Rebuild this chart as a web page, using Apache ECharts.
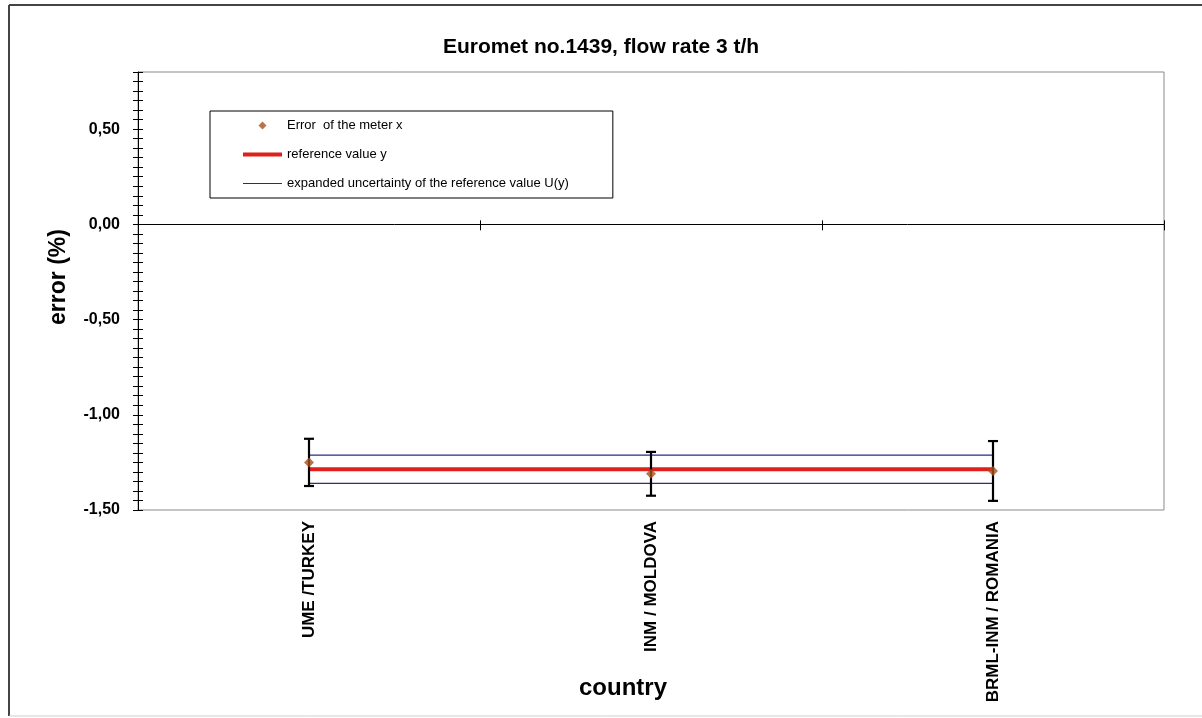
<!DOCTYPE html>
<html>
<head>
<meta charset="utf-8">
<script src="https://cdn.jsdelivr.net/npm/echarts@6/dist/echarts.min.js"></script>
<style>
html,body{margin:0;padding:0;background:#fff;}
#chart{width:1202px;height:718px;}
</style>
</head>
<body>
<div id="chart"></div>
<script>
// ---- data ----
var categories = ['UME /TURKEY', 'INM / MOLDOVA', 'BRML-INM / ROMANIA'];
var meterError = [-1.25, -1.31, -1.295];
var meterUncertainty = [0.124, 0.115, 0.157];
var referenceValue = [-1.286, -1.286, -1.286];
var uncertaintyUpper = [-1.212, -1.212, -1.212];
var uncertaintyLower = [-1.36, -1.36, -1.36];
var yTickValues = [-1.5, -1.0, -0.5, 0.0, 0.5];

var NAME_ERR = 'Error  of the meter x';
var NAME_REF = 'reference value y';
var NAME_UNC = 'expanded uncertainty of the reference value U(y)';
var FONT = 'Liberation Sans, Arial, sans-serif';

var chart = echarts.init(document.getElementById('chart'));

var errData = categories.map(function (c, i) {
  return [i, meterError[i] - meterUncertainty[i], meterError[i] + meterUncertainty[i]];
});

var yCommon = { type: 'value', min: -1.5, max: 0.8, position: 'left' };

var option = {
  backgroundColor: '#fff',
  animation: false,
  title: {
    text: 'Euromet no.1439, flow rate 3 t/h',
    left: 'center',
    top: 32,
    textStyle: { fontFamily: FONT, fontSize: 21, fontWeight: 'bold', color: '#000' }
  },
  legend: {
    orient: 'vertical',
    left: 210,
    top: 111,
    backgroundColor: '#fff',
    borderColor: '#000',
    borderWidth: 1,
    padding: [8, 44, 8, 33],
    itemWidth: 39,
    itemHeight: 8,
    itemGap: 16,
    symbolKeepAspect: true,
    textStyle: { fontFamily: FONT, fontSize: 13, color: '#000' },
    data: [
      { name: NAME_ERR, icon: 'path://M4,0 L8,4 L4,8 L0,4 Z' },
      { name: NAME_REF, icon: 'path://M0,0 L39,0 L39,4 L0,4 Z' },
      { name: NAME_UNC, icon: 'path://M0,0 L39,0 L39,1 L0,1 Z' }
    ]
  },
  grid: {
    left: 138, top: 72, right: 38, bottom: 208,
    show: true, borderColor: '#8a8a8a', borderWidth: 1, backgroundColor: '#fff'
  },
  xAxis: [
    {
      type: 'category', data: categories, position: 'bottom',
      axisLine: { show: false, onZero: false },
      axisTick: { show: false },
      splitLine: { show: false },
      axisLabel: { rotate: 90, margin: 11, fontFamily: FONT, fontSize: 17, fontWeight: 'bold', color: '#000' }
    },
    {
      type: 'category', data: categories, position: 'bottom',
      axisLine: { show: true, onZero: true, lineStyle: { color: '#000', width: 1 } },
      axisTick: { show: true, length: 6, lineStyle: { color: '#000' } },
      axisLabel: { show: false }, splitLine: { show: false }
    },
    {
      type: 'category', data: categories, position: 'bottom',
      axisLine: { show: false, onZero: true },
      axisTick: { show: true, inside: true, length: 4, lineStyle: { color: '#000' } },
      axisLabel: { show: false }, splitLine: { show: false }
    }
  ],
  yAxis: [
    Object.assign({}, yCommon, {
      interval: 0.5,
      axisLine: { show: true, lineStyle: { color: '#000', width: 1 } },
      axisTick: { show: false },
      splitLine: { show: false },
      axisLabel: {
        margin: 18, fontFamily: FONT, fontSize: 16, fontWeight: 'bold', color: '#000',
        formatter: function (v) {
          for (var k = 0; k < yTickValues.length; k++) {
            if (Math.abs(yTickValues[k] - v) < 1e-6) return v.toFixed(2).replace('.', ',');
          }
          return '';
        }
      }
    }),
    Object.assign({}, yCommon, {
      interval: 0.05,
      axisLine: { show: false },
      axisTick: { show: true, length: 5, lineStyle: { color: '#000' } },
      axisLabel: { show: false }, splitLine: { show: false }
    }),
    Object.assign({}, yCommon, {
      interval: 0.05,
      axisLine: { show: false },
      axisTick: { show: true, inside: true, length: 5, lineStyle: { color: '#000' } },
      axisLabel: { show: false }, splitLine: { show: false }
    })
  ],
  graphic: [
    { type: 'line', shape: { x1: 9, y1: 5, x2: 1202, y2: 5 }, style: { stroke: '#444', lineWidth: 2 }, silent: true },
    { type: 'line', shape: { x1: 9, y1: 5, x2: 9, y2: 716 }, style: { stroke: '#444', lineWidth: 2 }, silent: true },
    { type: 'line', shape: { x1: 9, y1: 716, x2: 1202, y2: 716 }, style: { stroke: '#cfcfcf', lineWidth: 1 }, silent: true },
    {
      type: 'text', x: 59, y: 277, rotation: Math.PI / 2,
      style: { text: 'error (%)', x: 0, y: 0, align: 'center', verticalAlign: 'middle',
        font: 'bold 23px ' + FONT, fill: '#000' }
    },
    {
      type: 'text', x: 623, y: 688,
      style: { text: 'country', x: 0, y: 0, align: 'center', verticalAlign: 'middle',
        font: 'bold 24px ' + FONT, fill: '#000' }
    }
  ],
  series: [
    {
      name: NAME_UNC, type: 'line', data: uncertaintyUpper, symbol: 'none',
      lineStyle: { color: '#2a2a8c', width: 1.2 }, itemStyle: { color: '#2a2a8c' }, z: 2
    },
    {
      name: NAME_UNC, type: 'line', data: uncertaintyLower, symbol: 'none',
      lineStyle: { color: '#2a2a8c', width: 1.2 }, itemStyle: { color: '#2a2a8c' }, z: 2
    },
    {
      name: NAME_REF, type: 'line', data: referenceValue, symbol: 'none',
      lineStyle: { color: '#e0201b', width: 4 }, itemStyle: { color: '#e0201b' }, z: 3
    },
    {
      name: 'errbars', type: 'custom', data: errData, z: 4,
      renderItem: function (params, api) {
        var x = api.value(0);
        var lo = api.coord([x, api.value(1)]);
        var hi = api.coord([x, api.value(2)]);
        var hw = 5;
        var st = { stroke: '#000', lineWidth: 2.2 };
        return {
          type: 'group',
          children: [
            { type: 'line', shape: { x1: lo[0], y1: lo[1], x2: hi[0], y2: hi[1] }, style: st },
            { type: 'line', shape: { x1: lo[0] - hw, y1: lo[1], x2: lo[0] + hw, y2: lo[1] }, style: st },
            { type: 'line', shape: { x1: hi[0] - hw, y1: hi[1], x2: hi[0] + hw, y2: hi[1] }, style: st }
          ]
        };
      }
    },
    {
      name: NAME_ERR, type: 'scatter', data: meterError, symbol: 'diamond', symbolSize: 10,
      itemStyle: { color: '#a8511e' }, z: 5
    }
  ]
};
chart.setOption(option);
</script>
</body>
</html>
